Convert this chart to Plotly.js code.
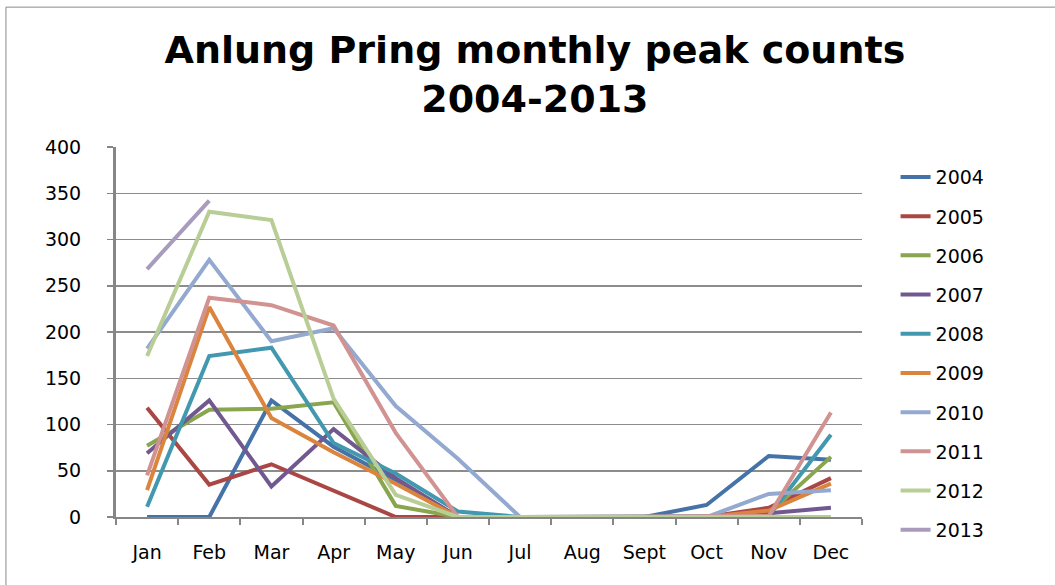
<!DOCTYPE html>
<html>
<head>
<meta charset="utf-8">
<script src="https://cdn.plot.ly/plotly-3.0.1.min.js"></script>
<style>
  body { margin: 0; background: #fff; }
  #chart { width: 1055px; height: 585px; }
</style>
</head>
<body>
<div id="chart"></div>
<script>
// months on the x axis
const months = ['Jan', 'Feb', 'Mar', 'Apr', 'May', 'Jun', 'Jul', 'Aug', 'Sept', 'Oct', 'Nov', 'Dec'];

// peak counts per year
const y2004 = [0, 0, 126, 76, 40, 0, 0, 0, 0, 13, 66, 62];
const y2005 = [118, 35, 57, 28, 0, 0, 0, 0, 0, 0, 10, 42];
const y2006 = [77, 116, 117, 124, 12, 0, 0, 0, 0, 0, 4, 65];
const y2007 = [69, 126, 33, 95, 42, 0, 0, 0, 0, 0, 4, 10];
const y2008 = [11, 174, 183, 80, 47, 6, 0, 0, 0, 0, 1, 89];
const y2009 = [29, 227, 107, 70, 36, 0, 0, 0, 0, 0, 7, 36];
const y2010 = [182, 278, 190, 204, 120, 63, 0, 0, 0, 0, 25, 29];
const y2011 = [45, 237, 229, 207, 91, 0, 0, 0, 0, 0, 1, 113];
const y2012 = [174, 330, 321, 128, 24, 0, 0, 0, 0, 0, 0, 0];
const y2013 = [268, 342, null, null, null, null, null, null, null, null, null, null];

const years = ['2004', '2005', '2006', '2007', '2008', '2009', '2010', '2011', '2012', '2013'];
const series = [y2004, y2005, y2006, y2007, y2008, y2009, y2010, y2011, y2012, y2013];
const colors = ['#4572A7', '#AA4643', '#89A54E', '#71588F', '#4198AF',
                '#DB843D', '#93A9CF', '#D19392', '#B9CD96', '#A99BBD'];

const traces = series.map((vals, i) => ({
  x: months,
  y: vals,
  type: 'scatter',
  mode: 'lines',
  name: years[i],
  legendgroup: years[i],
  line: {color: colors[i], width: 4},
  connectgaps: false,
}));

const axisFont = {family: 'DejaVu Sans, Verdana, sans-serif', size: 19, color: '#000'};

const layout = {
  width: 1055,
  height: 585,
  paper_bgcolor: '#fff',
  plot_bgcolor: '#fff',
  margin: {l: 116, r: 193, t: 147, b: 68},
  title: {
    text: 'Anlung Pring monthly peak counts<br>2004-2013',
    font: {family: 'DejaVu Sans, sans-serif', size: 38, color: '#000', weight: 'bold'},
    x: 0.507,
    xanchor: 'center',
    y: 0.893,
    yanchor: 'top',
  },
  xaxis: {
    type: 'category',
    range: [-0.5, 11.5],
    showgrid: false,
    showline: true,
    linecolor: '#868686',
    linewidth: 2,
    ticks: 'outside',
    tickson: 'boundaries',
    ticklen: 6,
    tickcolor: '#868686',
    tickwidth: 2,
    tickfont: axisFont,
    ticklabelstandoff: 17,
    zeroline: false,
    fixedrange: true,
  },
  yaxis: {
    range: [0, 400],
    dtick: 50,
    showgrid: true,
    gridcolor: '#8c8c8c',
    gridwidth: 1.5,
    showline: true,
    linecolor: '#868686',
    linewidth: 3,
    ticks: 'outside',
    ticklen: 6,
    tickcolor: '#868686',
    tickwidth: 1.5,
    tickfont: axisFont,
    ticklabelstandoff: 22,
    zeroline: false,
    fixedrange: true,
  },
  legend: {
    x: 1.045,
    xanchor: 'left',
    y: 0.97,
    yanchor: 'top',
    font: axisFont,
    tracegroupgap: 11.5,
    maxheight: 585,
    bgcolor: 'rgba(0,0,0,0)',
  },
  shapes: [{
    type: 'rect',
    xref: 'paper',
    yref: 'paper',
    x0: -0.1475,
    x1: 1.3,
    y0: -0.3,
    y1: 1.378,
    line: {color: '#8a8a8a', width: 1},
  }],
};

Plotly.newPlot('chart', traces, layout, {displayModeBar: false, staticPlot: true});
</script>
</body>
</html>
